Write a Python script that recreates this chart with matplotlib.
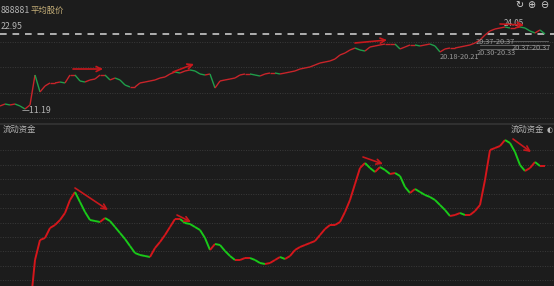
import numpy as np
import matplotlib
matplotlib.use("Agg")
import matplotlib.pyplot as plt
from matplotlib.collections import LineCollection

plt.rcParams['font.family'] = ['Noto Sans CJK SC', 'DejaVu Sans']

# average share price (one value per trading day)
price = [11.66, 11.97, 11.82, 11.97, 11.66, 11.19, 11.82, 16.52, 13.86, 14.80,
         15.27, 15.27, 15.42, 15.27, 16.52, 16.52, 15.58, 15.42, 15.74, 15.89,
         16.52, 16.52, 15.74, 16.05, 15.74, 14.95, 14.64, 14.64, 15.27, 15.42,
         15.58, 15.74, 16.05, 16.21, 16.68, 16.99, 16.83, 17.15, 17.31, 17.15,
         16.68, 16.52, 16.68, 14.48, 15.58, 15.74, 15.89, 16.05, 16.52, 16.68,
         16.68, 16.52, 16.36, 16.68, 16.83, 16.83, 16.68, 16.83, 16.99, 17.15,
         17.46, 17.62, 17.78, 18.09, 18.40, 18.56, 18.72, 19.03, 19.66, 19.97,
         20.44, 20.75, 20.44, 20.28, 20.91, 21.07, 21.23, 21.38, 21.38, 21.38,
         20.60, 20.91, 21.23, 21.23, 21.07, 21.23, 21.38, 21.07, 20.13, 20.60,
         20.75, 20.75, 20.91, 21.07, 21.23, 21.54, 22.01, 22.79, 23.42, 23.73,
         23.89, 24.05, 23.89, 23.89, 24.05, 23.89, 23.42, 23.11, 23.58, 22.95]
days = np.arange(len(price))

# 流动资金 (starts on day 6)
flow_start = 6
flow = [-10, 40, 60, 62, 72, 75, 80, 87, 100, 108,
        98, 88, 80, 79, 78, 82, 79, 73, 67, 61,
        54, 47, 45, 44, 43, 52, 58, 65, 73, 81,
        81, 77, 76, 73, 70, 62, 50, 56, 55, 49,
        44, 40, 40, 42, 42, 40, 37, 36, 37, 40,
        43, 41, 44, 50, 53, 55, 57, 59, 65, 71,
        75, 75, 78, 88, 100, 116, 132, 137, 132, 128,
        133, 130, 126, 127, 124, 113, 107, 111, 108, 105,
        103, 100, 95, 90, 84, 85, 87, 85, 85, 89,
        95, 120, 150, 152, 154, 160, 157, 148, 135, 129,
        132, 138, 134, 134]
flow_days = np.arange(flow_start, flow_start + len(flow))

last_price = 22.95
low_price = 11.19
high_price = 24.05
range_labels = ['20.18-20.21', '20.30-20.33', '20.37-20.37', '20.37-20.37']

BG = '#1c1c1c'
UP = '#c8242a'
DOWN = '#1f9e4a'
F_UP = '#d4161b'
F_DOWN = '#19c919'
ARROW = '#c8181c'
GRID = '#3a3a3a'
TXT = '#b4b4b4'

W, H = 554, 286
fig = plt.figure(figsize=(W / 100, H / 100), dpi=100, facecolor=BG)

top_h = 122
ax1 = fig.add_axes([0, 1 - top_h / H, 1, top_h / H], facecolor=BG)
ax2 = fig.add_axes([0, 0, 1, 162 / H], facecolor=BG)
for ax in (ax1, ax2):
    ax.set_xlim(0, 110.8)
    ax.set_axis_off()


def colored_line(ax, x, y, up, down, lw):
    x = np.asarray(x, float)
    y = np.asarray(y, float)
    pts = np.column_stack([x, y]).reshape(-1, 1, 2)
    segs = np.concatenate([pts[:-1], pts[1:]], axis=1)
    cols = [up if d >= 0 else down for d in np.diff(y)]
    ax.add_collection(LineCollection(segs, colors=cols, linewidths=lw,
                                     capstyle='butt', joinstyle='miter'))


# ---- top panel: price ----
ax1.set_ylim(9.15, 28.28)
for f in [1 - 42 / top_h, 1 - 67 / top_h, 1 - 93 / top_h, 1 - 118 / top_h]:
    ax1.plot([0, 1], [f, f], transform=ax1.transAxes, color=GRID,
             lw=0.7, ls=(0, (1, 1.5)))
ax1.axhline(last_price, color='#c8c8c8', lw=1.2, ls=(0, (4, 3.5)))
colored_line(ax1, days, price, UP, DOWN, 1.0)

ax1.text(0.2, 26.6, '888881', color=TXT, fontsize=6.3,
         va='center', ha='left')
ax1.text(6.1, 26.6, '平均股价', color='#c9b27a', fontsize=6,
         va='center', ha='left')
ax1.text(0.1, last_price + 1.1, f'{last_price:.2f}', color=TXT,
         fontsize=6.3, va='center', ha='left')
ax1.text(4.3, low_price - 0.2, f'—{low_price:.2f}', color=TXT,
         fontsize=6.3, va='center', ha='left')
ax1.text(100.8, high_price + 0.5, f'{high_price:.2f}', color=TXT,
         fontsize=5.8, va='center', ha='left')

# range labels near the right end
for (xl, yl), s in zip([(88.0, 19.30), (95.4, 19.92), (95.2, 21.62),
                        (102.4, 20.80)], range_labels):
    ax1.text(xl, yl, s, color='#9a9a9a', fontsize=5.3,
             va='center', ha='left')
for yv in [21.9, 21.3, 20.6]:
    ax1.plot([96.0, 109.5], [yv, yv], color='#6a6a6a', lw=0.6)

# toolbar icons
for xi, s in zip([0.937, 0.959, 0.982], ['↻', '⊕', '⊖']):
    ax1.text(xi, 0.955, s, transform=ax1.transAxes, color='#d8d8d8',
             fontsize=7, ha='center', va='center', family='DejaVu Sans')

top_arrows = [((14.6, 17.46), (20.6, 17.46)),
              ((34.6, 16.99), (38.8, 18.25)),
              ((71.0, 21.54), (77.4, 22.01)),
              ((100.0, 24.52), (104.8, 24.36))]
for (x0, y0), (x1, y1) in top_arrows:
    ax1.annotate('', xy=(x1, y1), xytext=(x0, y0),
                 arrowprops=dict(arrowstyle='->', color=ARROW, lw=1.2,
                                 mutation_scale=9, shrinkA=0, shrinkB=0))

# ---- separator ----
fig.add_artist(plt.Line2D([0, 1], [1 - 124 / H, 1 - 124 / H],
                          transform=fig.transFigure, color='#303030', lw=1.5))

# ---- bottom panel: 流动资金 ----
ax2.set_ylim(14, 176)
for yp in [150, 165, 179, 194, 208, 223, 237, 251, 266, 280]:
    f = (286 - yp) / 162
    ax2.plot([0, 1], [f, f], transform=ax2.transAxes, color=GRID,
             lw=0.7, ls=(0, (1, 1.5)))
colored_line(ax2, flow_days, flow, F_UP, F_DOWN, 1.4)

ax2.text(0.004, 0.965, '流动资金', transform=ax2.transAxes, color=TXT,
         fontsize=6, va='center', ha='left')
ax2.text(0.982, 0.965, '流动资金', transform=ax2.transAxes, color=TXT,
         fontsize=6, va='center', ha='right')
ax2.text(0.986, 0.965, '◐', transform=ax2.transAxes, color=TXT,
         fontsize=5, va='center', ha='left', family='DejaVu Sans')

bottom_arrows = [((15.0, 112), (21.6, 90)),
                 ((35.4, 85), (38.2, 78)),
                 ((72.6, 143), (76.6, 136)),
                 ((102.6, 161), (106.2, 148))]
for (x0, y0), (x1, y1) in bottom_arrows:
    ax2.annotate('', xy=(x1, y1), xytext=(x0, y0),
                 arrowprops=dict(arrowstyle='->', color=ARROW, lw=1.2,
                                 mutation_scale=9, shrinkA=0, shrinkB=0))

fig.savefig('out.png', dpi=100, facecolor=BG)
